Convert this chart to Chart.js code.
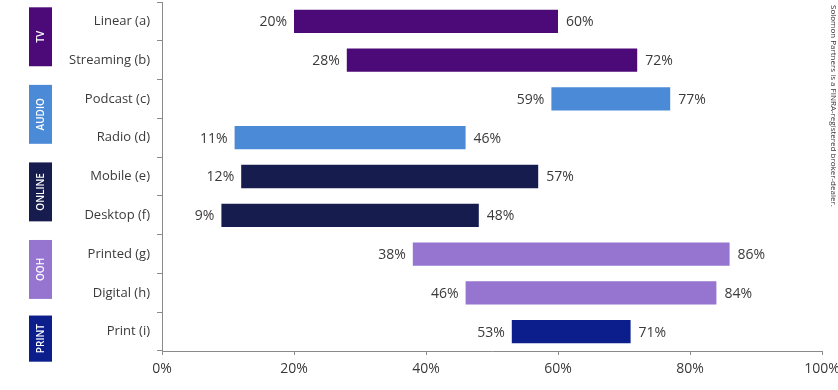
<!DOCTYPE html>
<html>
<head>
<meta charset="utf-8">
<script src="https://cdn.jsdelivr.net/npm/chart.js@4/dist/chart.umd.min.js"></script>
<style>
  html, body { margin: 0; padding: 0; background: #ffffff; }
  canvas { display: block; }
</style>
</head>
<body>
<canvas id="c" width="838" height="390"></canvas>
<script>
// ---- data ----
const categories = ["Linear (a)", "Streaming (b)", "Podcast (c)", "Radio (d)", "Mobile (e)", "Desktop (f)", "Printed (g)", "Digital (h)", "Print (i)"];
const startValues = [20, 28, 59, 11, 12, 9, 38, 46, 53];
const endValues   = [60, 72, 77, 46, 57, 48, 86, 84, 71];
const groupNames  = ["TV", "AUDIO", "ONLINE", "OOH", "PRINT"];
const groupStart  = [0, 2, 4, 6, 8];
const groupCount  = [2, 2, 2, 2, 1];
const xTicks      = [0, 20, 40, 60, 80, 100];
const footnote    = "Solomon Partners is a FINRA-registered broker-dealer.";

// ---- styles ----
const groupColors = ["#4C0A78", "#4A8AD6", "#171C4E", "#9575D0", "#0B1E8C"];
const FONT = "'Open Sans', 'Noto Sans', sans-serif";
const TEXT = "#3a3a3a";
const AXIS = "#8a8a8a";

const barColors = categories.map((_, i) => {
  for (let g = 0; g < groupStart.length; g++) {
    if (i >= groupStart[g] && i < groupStart[g] + groupCount[g]) return groupColors[g];
  }
  return "#999";
});

const decorPlugin = {
  id: "decor",
  afterDatasetsDraw(chart) {
    const ctx = chart.ctx;
    const xs = chart.scales.x, ys = chart.scales.y;
    const meta = chart.getDatasetMeta(0);
    ctx.save();
    // value labels
    ctx.font = "14px " + FONT;
    ctx.fillStyle = TEXT;
    ctx.textBaseline = "middle";
    meta.data.forEach((bar, i) => {
      const y = bar.y;
      ctx.textAlign = "right";
      ctx.fillText(startValues[i] + "%", xs.getPixelForValue(startValues[i]) - 7, y + 1);
      ctx.textAlign = "left";
      ctx.fillText(endValues[i] + "%", xs.getPixelForValue(endValues[i]) + 8, y + 1);
    });
    // group boxes
    const catH = ys.getPixelForValue(1) - ys.getPixelForValue(0);
    groupNames.forEach((name, g) => {
      const first = ys.getPixelForValue(groupStart[g]);
      const last = ys.getPixelForValue(groupStart[g] + groupCount[g] - 1);
      let cy, h;
      if (groupCount[g] > 1) { cy = (first + last) / 2 - 4; h = catH * 1.52; }
      else { cy = first + 7; h = catH * 1.19; }
      const bx = 29, bw = 23;
      ctx.fillStyle = groupColors[g];
      ctx.fillRect(bx, cy - h / 2, bw, h);
      ctx.save();
      ctx.translate(bx + bw / 2, cy);
      ctx.rotate(-Math.PI / 2);
      ctx.fillStyle = "#ffffff";
      ctx.font = "600 10px " + FONT;
      ctx.textAlign = "center";
      ctx.textBaseline = "middle";
      ctx.fillText(name, 0, 1);
      ctx.restore();
    });
    // footnote
    ctx.save();
    ctx.translate(833, 5);
    ctx.rotate(Math.PI / 2);
    ctx.fillStyle = "#333";
    ctx.font = "8px " + FONT;
    ctx.textAlign = "left";
    ctx.textBaseline = "middle";
    ctx.fillText(footnote, 0, 0);
    ctx.restore();
    ctx.restore();
  }
};

new Chart(document.getElementById("c"), {
  type: "bar",
  data: {
    labels: categories,
    datasets: [{
      data: categories.map((_, i) => [startValues[i], endValues[i]]),
      backgroundColor: barColors,
      borderWidth: 0,
      barPercentage: 0.6,
      categoryPercentage: 1.0
    }]
  },
  options: {
    indexAxis: "y",
    responsive: false,
    devicePixelRatio: 1,
    animation: false,
    layout: { padding: { top: 2, right: 16, left: 0, bottom: 0 } },
    plugins: { legend: { display: false }, tooltip: { enabled: false } },
    scales: {
      x: {
        type: "linear",
        min: 0, max: 100,
        afterBuildTicks(scale) { scale.ticks = xTicks.map(v => ({ value: v })); },
        afterFit(scale) {
          scale.height = 39;
          scale.paddingLeft = 0; scale.paddingRight = 0;
        },
        ticks: {
          callback: v => v + "%",
          font: { family: FONT, size: 14 },
          color: TEXT,
          padding: 6,
          maxRotation: 0
        },
        grid: { drawOnChartArea: false, drawTicks: true, tickLength: 4, color: AXIS },
        border: { display: true, color: AXIS, width: 1 }
      },
      y: {
        type: "category",
        afterFit(scale) {
          scale.width = 162;
          scale.paddingTop = 0; scale.paddingBottom = 0;
        },
        ticks: {
          font: { family: FONT, size: 13 },
          color: TEXT,
          padding: 7
        },
        grid: { offset: true, drawOnChartArea: false, drawTicks: true, tickLength: 5, color: AXIS },
        border: { display: true, color: AXIS, width: 1 }
      }
    }
  },
  plugins: [decorPlugin]
});
</script>
</body>
</html>
